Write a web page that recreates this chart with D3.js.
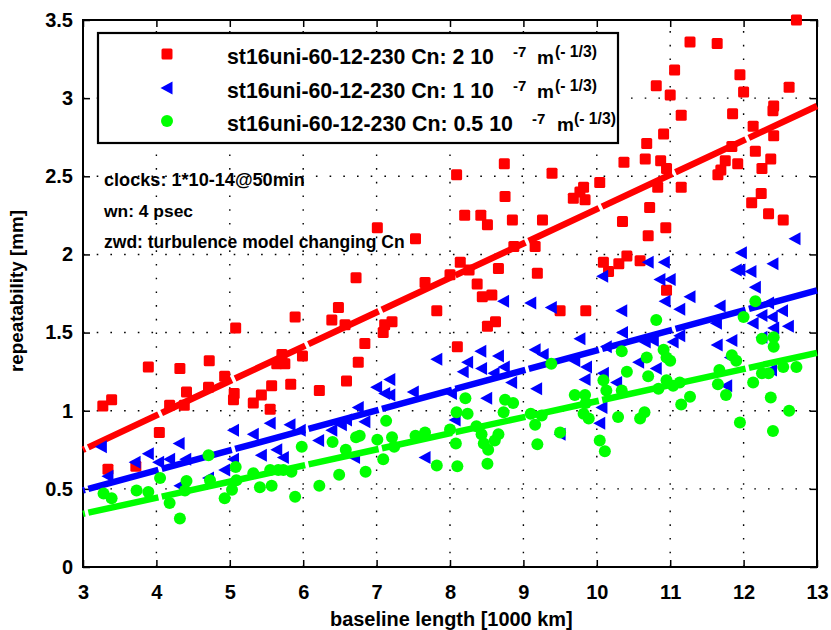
<!DOCTYPE html>
<html><head><meta charset="utf-8">
<script src="https://cdn.jsdelivr.net/npm/d3@7"></script>
<style>body{margin:0;background:#fff}svg{display:block}text{font-family:"Liberation Sans",Arial,sans-serif;font-weight:bold}</style>
</head><body><svg id="c" width="831" height="630"></svg>
<script>
const xTicks=[3,4,5,6,7,8,9,10,11,12,13];
const yTicks=[0,0.5,1,1.5,2,2.5,3,3.5];
const yTickLabels=["0","0.5","1","1.5","2","2.5","3","3.5"];
const seriesNames=["st16uni-60-12-230 Cn: 2 10","st16uni-60-12-230 Cn: 1 10","st16uni-60-12-230 Cn: 0.5 10"];
const notes=["clocks: 1*10-14@50min","wn: 4 psec","zwd: turbulence model changing Cn"];
const redX=[3.27,3.39,3.34,3.72,4.04,3.89,4.18,4.38,4.41,4.32,4.72,4.71,4.93,5.05,5.06,5.08,5.32,5.43,5.55,5.57,5.64,5.75,5.71,5.83,5.89,5.99,6.22,6.39,6.48,6.57,6.59,6.72,6.75,6.84,7.01,7.09,7.11,7.21,7.53,7.66,7.82,8.0,8.09,8.10,8.14,8.20,8.26,8.37,8.42,8.44,8.51,8.51,8.57,8.62,8.66,8.74,8.75,8.85,8.87,9.16,9.19,9.26,9.39,9.50,9.68,9.77,9.82,9.84,9.85,10.04,10.09,10.16,10.30,10.35,10.37,10.41,10.59,10.66,10.68,10.70,10.72,10.81,10.83,10.87,10.91,10.94,10.95,10.95,11.0,11.06,11.15,11.15,11.27,11.64,11.65,11.69,11.75,11.84,11.85,11.92,11.95,12.0,12.11,12.13,12.16,12.24,12.25,12.34,12.37,12.40,12.41,12.41,12.54,12.62,12.72];
const redY=[1.03,1.07,0.625,0.645,0.86,1.28,1.035,1.035,1.12,1.27,1.32,1.15,1.22,1.07,1.11,1.53,1.05,1.10,1.01,1.16,1.30,1.30,1.36,1.17,1.60,1.35,1.13,1.58,1.66,1.55,1.19,1.85,1.31,1.43,2.17,1.50,1.55,1.57,2.10,1.82,1.64,1.87,2.51,1.41,1.95,2.25,1.90,1.81,2.25,1.73,2.19,1.54,1.74,1.57,1.91,2.58,2.37,2.22,2.05,2.05,1.88,2.22,2.52,1.64,2.36,2.40,2.43,2.35,1.64,2.46,1.95,1.89,1.94,2.21,2.59,1.99,1.96,2.61,2.71,2.12,2.30,3.08,2.43,2.60,2.77,2.17,2.55,1.77,3.02,3.18,2.89,2.43,3.36,3.35,2.51,2.54,2.60,2.69,2.90,2.58,3.15,3.04,2.33,2.82,2.66,2.39,2.55,2.26,2.61,2.92,2.95,2.76,2.22,3.07,3.50];
const blueX=[3.25,3.34,3.71,3.89,4.03,4.18,4.31,4.40,4.32,4.71,4.93,5.05,5.05,5.32,5.43,5.55,5.64,5.73,5.82,5.96,6.21,6.39,6.52,6.59,6.70,6.75,6.84,7.0,7.11,7.18,7.18,7.50,7.66,7.82,8.02,8.07,8.18,8.24,8.42,8.43,8.50,8.60,8.66,8.73,8.74,8.84,9.10,9.16,9.18,9.27,9.38,9.50,9.70,9.77,9.84,9.86,10.04,10.07,10.08,10.09,10.13,10.27,10.34,10.35,10.57,10.66,10.70,10.77,10.81,10.86,10.92,10.93,11.0,11.04,11.13,11.13,11.27,11.63,11.64,11.68,11.77,11.82,11.84,11.90,11.95,11.97,12.10,12.13,12.16,12.25,12.25,12.34,12.38,12.39,12.40,12.41,12.53,12.61,12.70];
const blueY=[0.77,0.58,0.67,0.725,0.67,0.69,0.79,0.69,0.52,0.57,0.62,0.875,0.69,0.85,0.715,0.92,0.75,0.70,0.91,0.875,0.81,0.875,0.91,0.94,0.70,1.02,0.93,1.15,1.11,1.10,1.20,1.12,0.70,1.33,1.11,0.94,1.25,1.31,1.38,1.27,1.08,1.24,1.35,1.70,1.28,1.18,1.69,1.39,1.14,1.36,1.66,0.85,1.32,1.46,1.20,1.28,0.92,1.02,1.86,1.24,1.41,1.18,1.64,1.50,1.31,1.44,1.95,1.45,1.27,1.84,1.95,1.70,1.84,1.44,1.65,1.48,1.73,1.56,1.42,1.67,1.16,1.34,1.45,1.90,1.90,2.01,1.89,1.56,1.79,1.61,1.47,1.69,1.26,1.60,1.94,1.53,1.64,1.54,2.10];
const greenX=[3.28,3.39,3.73,3.89,4.05,4.18,4.32,4.39,4.41,4.71,4.73,4.93,5.03,5.08,5.09,5.32,5.41,5.55,5.57,5.66,5.73,5.84,5.89,5.98,6.22,6.40,6.49,6.58,6.72,6.77,6.85,7.01,7.09,7.13,7.21,7.24,7.53,7.66,7.82,8.0,8.08,8.10,8.09,8.24,8.21,8.36,8.43,8.46,8.52,8.51,8.61,8.66,8.73,8.75,8.86,9.10,9.16,9.19,9.25,9.38,9.50,9.70,9.82,9.84,9.85,9.89,10.04,10.09,10.11,10.13,10.29,10.34,10.34,10.41,10.59,10.65,10.68,10.70,10.81,10.84,10.91,10.95,10.95,11.0,11.04,11.13,11.15,11.27,11.65,11.67,11.76,11.84,11.90,11.95,12.0,12.13,12.16,12.25,12.25,12.34,12.37,12.40,12.41,12.41,12.54,12.62,12.72];
const greenY=[0.47,0.44,0.49,0.48,0.57,0.41,0.31,0.49,0.55,0.715,0.555,0.44,0.495,0.64,0.555,0.60,0.51,0.62,0.52,0.62,0.62,0.61,0.45,0.77,0.52,0.80,0.59,0.75,0.83,0.84,0.61,0.815,0.69,0.935,0.83,0.77,0.84,0.86,0.65,0.88,0.79,0.645,0.99,0.98,1.08,0.90,0.85,0.79,0.75,0.66,0.81,0.85,0.99,1.07,1.05,0.98,0.91,0.785,0.97,1.30,0.86,1.10,0.98,1.10,1.05,0.95,0.81,1.195,0.74,1.13,0.96,1.13,1.38,1.25,0.95,0.99,1.34,1.22,1.58,1.14,1.39,1.34,1.195,1.32,1.16,1.18,1.04,1.09,1.17,1.26,1.10,1.355,1.32,0.925,1.60,1.18,1.70,1.46,1.24,1.24,1.085,0.87,1.47,1.41,1.28,1.00,1.28];
const fitX=[3,13];
const redFit=[0.75,2.95];
const blueFit=[0.49,1.77];
const greenFit=[0.34,1.37];

const svg=d3.select("#c");
const L=83,R=817,T=20,B=567;
const x=d3.scaleLinear().domain([3,13]).range([L,R]);
const y=d3.scaleLinear().domain([0,3.5]).range([B,T]);
svg.append("rect").attr("width",831).attr("height",630).attr("fill","#fff");

function fitText(sel,target){
  const n=sel.node(); const s=+sel.attr("font-size"); const w=n.getComputedTextLength();
  sel.attr("font-size",(s*target/w).toFixed(2));
  return sel;
}

// grid
const g=svg.append("g").attr("stroke","#000").attr("stroke-width",1.4).attr("stroke-dasharray","1.6,12.1");
xTicks.slice(1,-1).forEach(t=>g.append("line").attr("x1",x(t)).attr("x2",x(t)).attr("y1",B).attr("y2",T));
yTicks.slice(1,-1).forEach(t=>g.append("line").attr("y1",y(t)).attr("y2",y(t)).attr("x1",L).attr("x2",R));

// axes
const fmtY=(d,i)=>yTickLabels[yTicks.indexOf(d)];
const ax=svg.append("g").attr("transform",`translate(0,${B})`).call(d3.axisBottom(x).tickValues(xTicks).tickSize(-7).tickPadding(18).tickFormat(d3.format("d")));
const ay=svg.append("g").attr("transform",`translate(${L},0)`).call(d3.axisLeft(y).tickValues(yTicks).tickSize(-7).tickPadding(10).tickFormat(fmtY));
const at=svg.append("g").attr("transform",`translate(0,${T})`).call(d3.axisTop(x).tickValues(xTicks).tickSize(-7).tickFormat(""));
const ar=svg.append("g").attr("transform",`translate(${R},0)`).call(d3.axisRight(y).tickValues(yTicks).tickSize(-7).tickFormat(""));
[ax,ay,at,ar].forEach(a=>{a.select(".domain").remove();a.selectAll("line").attr("stroke","#000").attr("stroke-width",1.5);a.selectAll("text").attr("font-size",20).attr("fill","#000").style("font-family","'Liberation Sans',Arial,sans-serif").style("font-weight","bold");});
svg.append("rect").attr("x",L).attr("y",T).attr("width",R-L).attr("height",B-T).attr("fill","none").attr("stroke","#000").attr("stroke-width",2);

// markers & lines
const plot=svg.append("g");
function fitLine(vals,col){
  const p=plot.append("path").datum(fitX.map((d,i)=>[d,vals[i]])).attr("d",d3.line().x(d=>x(d[0])).y(d=>y(d[1])))
   .attr("fill","none").attr("stroke",col).attr("stroke-width",6.5);
  const len=p.node().getTotalLength(); const U=len/(fitX[1]-fitX[0]); const gap=3.5;
  p.attr("stroke-dasharray",`${U-gap},${gap}`).attr("stroke-dashoffset",-(0.05*U)-gap/2);
}
const sq=11;
plot.selectAll(".r").data(redX.map((d,i)=>[d,redY[i]])).enter().append("rect")
  .attr("x",d=>x(d[0])-sq/2).attr("y",d=>y(d[1])-sq/2).attr("width",sq).attr("height",sq).attr("rx",1.5).attr("fill","#ff0000");
fitLine(redFit,"#ff0000");
const tri=(cx,cy)=>`M${cx-6.5},${cy}L${cx+5.5},${cy-6.5}L${cx+5.5},${cy+6.5}Z`;
plot.selectAll(".b").data(blueX.map((d,i)=>[d,blueY[i]])).enter().append("path")
  .attr("d",d=>tri(x(d[0]),y(d[1]))).attr("fill","#0000ff");
fitLine(blueFit,"#0000ff");
plot.selectAll(".gc").data(greenX.map((d,i)=>[d,greenY[i]])).enter().append("circle")
  .attr("cx",d=>x(d[0])).attr("cy",d=>y(d[1])).attr("r",6).attr("fill","#00ff00");
fitLine(greenFit,"#00ff00");

// legend
svg.append("rect").attr("x",98).attr("y",33).attr("width",520).attr("height",110).attr("fill","#fff").attr("stroke","#000").attr("stroke-width",2.2);
const rows=[54,88,121];
svg.append("rect").attr("x",167-sq/2).attr("y",rows[0]-sq/2).attr("width",sq).attr("height",sq).attr("rx",1.5).attr("fill","#ff0000");
svg.append("path").attr("d",tri(167,rows[1])).attr("fill","#0000ff");
svg.append("circle").attr("cx",167).attr("cy",rows[2]).attr("r",6).attr("fill","#00ff00");
const ends=[494,494,513];
const supX=[[513,537,555],[513,537,555],[532,557,574]];
seriesNames.forEach((s,i)=>{
  const by=rows[i]+10;
  fitText(svg.append("text").attr("x",227).attr("y",by).attr("font-size",18).text(s),ends[i]-227);
  svg.append("text").attr("x",supX[i][0]).attr("y",by-7).attr("font-size",15).text("-7");
  svg.append("text").attr("x",supX[i][1]).attr("y",by).attr("font-size",19).text("m");
  fitText(svg.append("text").attr("x",supX[i][2]).attr("y",by-7).attr("font-size",15).text("(- 1/3)"),42);
});
// notes
const ny=[186,217,248];
const nw=[201,89,301];
notes.forEach((t,i)=>fitText(svg.append("text").attr("x",104).attr("y",ny[i]).attr("font-size",16).text(t),nw[i]));
// axis labels
fitText(svg.append("text").attr("x",330).attr("y",626).attr("font-size",16.5).text("baseline length [1000 km]"),243);
fitText(svg.append("text").attr("transform","translate(23,372) rotate(-90)").attr("font-size",16).text("repeatability [mm]"),162);
</script></body></html>
